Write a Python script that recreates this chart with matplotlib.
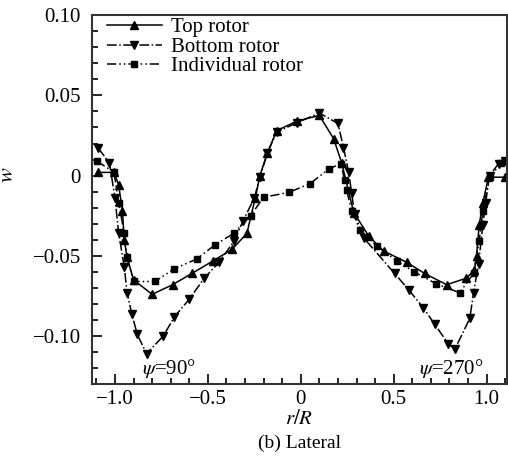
import matplotlib.pyplot as plt
from matplotlib.ticker import MultipleLocator, FuncFormatter

plt.rcParams["font.family"] = ["Liberation Serif", "DejaVu Serif"]
plt.rcParams["mathtext.fontset"] = "stix"

# top rotor (solid, up triangles)
top_x = [-1.09, -1.005, -0.98, -0.96, -0.95, -0.935, -0.90, -0.80, -0.69, -0.586,
         -0.47, -0.37, -0.29, -0.245, -0.22, -0.18, -0.13, -0.02, 0.10, 0.177,
         0.22, 0.285, 0.365, 0.446, 0.57, 0.667, 0.785, 0.89, 0.935, 0.946,
         0.96, 0.98, 1.01, 1.10]
top_y = [0.002, 0.002, -0.006, -0.022, -0.040, -0.051, -0.065, -0.074, -0.068, -0.061,
         -0.053, -0.046, -0.036, -0.014, 0.0, 0.014, 0.028, 0.034, 0.0375, 0.023,
         0.008, -0.023, -0.0375, -0.047, -0.054, -0.061, -0.068, -0.064, -0.059, -0.050,
         -0.031, -0.017, -0.001, -0.001]

# bottom rotor (dash-dot, down triangles)
bot_x = [-1.09, -1.03, -1.0, -0.98, -0.95, -0.935, -0.91, -0.88, -0.83, -0.74,
         -0.68, -0.60, -0.52, -0.44, -0.36, -0.31, -0.25, -0.22, -0.18, -0.13,
         -0.02, 0.10, 0.20, 0.23, 0.258, 0.274, 0.29, 0.34, 0.505, 0.58,
         0.66, 0.72, 0.795, 0.83, 0.91, 0.93, 0.957, 0.98, 0.995, 1.016,
         1.065, 1.10]
bot_y = [0.017, 0.008, -0.014, -0.036, -0.057, -0.073, -0.086, -0.099, -0.111, -0.100,
         -0.088, -0.077, -0.064, -0.054, -0.041, -0.028, -0.014, -0.001, 0.014, 0.027,
         0.033, 0.039, 0.0325, 0.0175, 0.002, -0.011, -0.024, -0.039, -0.061, -0.071,
         -0.0825, -0.0925, -0.105, -0.108, -0.089, -0.073, -0.055, -0.031, -0.017, 0.0,
         0.0075, 0.009]

# individual rotor (dash-dot-dot, squares)
ind_x = [-1.097, -1.005, -0.98, -0.95, -0.935, -0.90, -0.785, -0.68, -0.56, -0.46,
         -0.36, -0.27, -0.20, -0.065, 0.05, 0.15, 0.215, 0.237, 0.247, 0.274,
         0.32, 0.41, 0.516, 0.61, 0.73, 0.855, 0.93, 0.96, 0.98, 1.016,
         1.08, 1.10]
ind_y = [0.009, 0.002, -0.017, -0.036, -0.051, -0.066, -0.066, -0.058, -0.052, -0.043,
         -0.036, -0.025, -0.0135, -0.0105, -0.005, 0.004, 0.0075, -0.003, -0.009, -0.022,
         -0.034, -0.044, -0.053, -0.060, -0.0675, -0.073, -0.061, -0.041, -0.022, -0.001,
         0.008, 0.009]

fig = plt.figure(figsize=(5.08, 4.59), dpi=100)
ax = fig.add_axes([0.181, 0.163, 0.817, 0.804])

ax.plot(top_x, top_y, color="black", lw=1.1, ls="-", marker="^", ms=5.5,
        label="Top rotor")
ax.plot(bot_x, bot_y, color="black", lw=1.1, ls="-.", marker="v", ms=5.5,
        label="Bottom rotor")
ax.plot(ind_x, ind_y, color="black", lw=1.1, ls=(0, (6, 2, 1, 2, 1, 2)),
        marker="s", ms=5, label="Individual rotor")

ax.set_xlim(-1.124, 1.11)
ax.set_ylim(-0.13, 0.10)

ax.xaxis.set_major_locator(MultipleLocator(0.5))
ax.xaxis.set_minor_locator(MultipleLocator(0.1))
ax.yaxis.set_major_locator(MultipleLocator(0.05))
ax.yaxis.set_minor_locator(MultipleLocator(0.01))


def fmt_x(v, pos):
    if abs(v) < 1e-9:
        return "0"
    return f"{v:.1f}".replace("-", "\u2212")


def fmt_y(v, pos):
    if abs(v) < 1e-9:
        return "0"
    return f"{v:.2f}".replace("-", "\u2212")


ax.xaxis.set_major_formatter(FuncFormatter(fmt_x))
ax.yaxis.set_major_formatter(FuncFormatter(fmt_y))
ax.tick_params(which="both", direction="in", top=False, right=False,
               labelsize=15, width=1.2)
ax.tick_params(which="major", length=7)
ax.tick_params(which="minor", length=4)
ax.tick_params(axis="y", pad=8)
ax.tick_params(axis="x", pad=4)
for s in ax.spines.values():
    s.set_linewidth(1.5)
    s.set_color("#333333")

ax.set_ylabel("$w$", fontsize=16)
ax.yaxis.set_label_coords(-0.178, (384 - 175) / 369)
ax.set_xlabel("$r/R$", fontsize=15, labelpad=1)

ax.text(-0.71, -0.1205, "$\\psi$=90°", fontsize=15, ha="center", va="center")
ax.text(0.81, -0.1205, "$\\psi$=270°", fontsize=15, ha="center", va="center")

ax.legend(loc="upper left", bbox_to_anchor=(0.036, 0.993), frameon=False,
          fontsize=15, handlelength=2.65, handletextpad=0.45,
          labelspacing=0.0, borderaxespad=0.0, borderpad=0.0)

fig.text(299 / 508, 1 - 443 / 459, "(b) Lateral", fontsize=14,
         ha="center", va="center")

fig.savefig("out.png", dpi=100)
